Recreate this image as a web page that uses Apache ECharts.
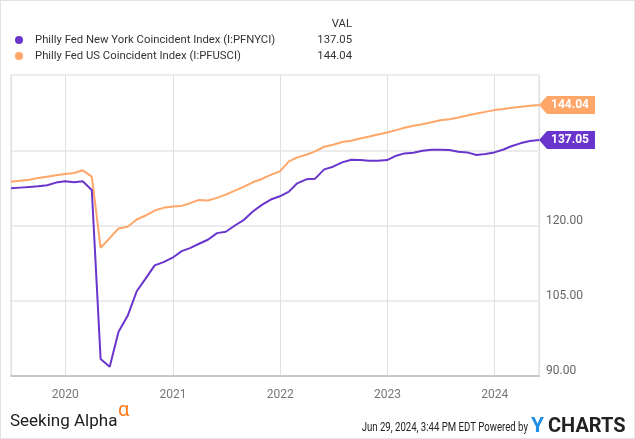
<!DOCTYPE html>
<html>
<head>
<meta charset="utf-8">
<script src="https://cdn.jsdelivr.net/npm/echarts@6/dist/echarts.min.js"></script>
<style>
  html, body { margin: 0; padding: 0; background: #fff; }
  #chart { width: 635px; height: 439px; box-sizing: border-box; border: 1px solid #e2e2e2; }
</style>
</head>
<body>
<div id="chart"></div>
<script>
// Month-end observation dates
const dates = [
  '2019-06-30','2019-07-31','2019-08-31','2019-09-30','2019-10-31','2019-11-30','2019-12-31',
  '2020-01-31','2020-02-29','2020-03-31','2020-04-30','2020-05-31','2020-06-30','2020-07-31','2020-08-31','2020-09-30','2020-10-31','2020-11-30','2020-12-31',
  '2021-01-31','2021-02-28','2021-03-31','2021-04-30','2021-05-31','2021-06-30','2021-07-31','2021-08-31','2021-09-30','2021-10-31','2021-11-30','2021-12-31',
  '2022-01-31','2022-02-28','2022-03-31','2022-04-30','2022-05-31','2022-06-30','2022-07-31','2022-08-31','2022-09-30','2022-10-31','2022-11-30','2022-12-31',
  '2023-01-31','2023-02-28','2023-03-31','2023-04-30','2023-05-31','2023-06-30','2023-07-31','2023-08-31','2023-09-30','2023-10-31','2023-11-30','2023-12-31',
  '2024-01-31','2024-02-29','2024-03-31','2024-04-30','2024-05-31'
];

// Philly Fed New York Coincident Index (I:PFNYCI)
const nyValues = [
  127.41,127.55,127.69,127.82,128.01,128.55,128.81,
  128.61,128.81,127.09,93.38,91.85,98.81,101.99,106.89,109.41,112.05,112.71,113.58,
  114.9,115.5,116.36,117.16,118.48,118.75,120.0,121.13,122.78,124.11,125.17,125.82,
  126.76,128.41,129.2,129.34,131.19,131.72,132.58,133.12,133.05,132.92,132.92,133.05,
  133.91,134.37,134.5,134.9,135.1,135.1,135.04,134.7,134.57,134.05,134.24,134.57,
  135.16,135.84,136.43,136.85,137.05
];

// Philly Fed US Coincident Index (I:PFUSCI)
const usValues = [
  128.74,128.94,129.14,129.47,129.74,130.0,130.27,
  130.47,131.0,129.74,115.57,117.48,119.4,119.74,121.19,121.99,122.98,123.52,123.78,
  123.91,124.45,125.1,125.0,125.5,126.16,126.96,127.75,128.61,129.28,130.08,130.8,
  132.78,133.58,134.11,134.77,135.7,136.1,136.63,136.89,137.35,137.75,138.15,138.54,
  139.01,139.47,139.87,140.2,140.6,141.0,141.2,141.52,141.92,142.31,142.65,143.0,
  143.2,143.45,143.65,143.85,144.04
];

const seriesNames = ['Philly Fed New York Coincident Index (I:PFNYCI)', 'Philly Fed US Coincident Index (I:PFUSCI)'];
const seriesColors = ['#6a35cc', '#ffa668'];
const yTickLabels = [90, 105, 120];
const xTickLabels = ['2020', '2021', '2022', '2023', '2024'];

const FONT = 'Roboto, "DejaVu Sans", sans-serif';

function toPairs(vals) { return vals.map((v, i) => [dates[i], v]); }

const allSeries = [nyValues, usValues];
const flagPath = 'path://M0,9 L8,0 L56,0 L56,18 L8,18 Z';

const series = allSeries.map((vals, si) => {
  const last = vals[vals.length - 1];
  return {
    name: seriesNames[si],
    type: 'line',
    data: toPairs(vals),
    showSymbol: false,
    symbol: 'none',
    clip: false,
    z: si === 0 ? 4 : 3,
    lineStyle: { color: seriesColors[si], width: 2 },
    itemStyle: { color: seriesColors[si] },
    markPoint: {
      symbol: flagPath,
      symbolSize: [56, 18],
      symbolKeepAspect: false,
      symbolOffset: [28, 0],
      silent: true,
      itemStyle: { color: seriesColors[si] },
      label: {
        show: true,
        position: 'inside',
        offset: [3, 0],
        color: '#fff',
        fontFamily: FONT,
        fontSize: 12,
        fontWeight: 'bold',
        formatter: () => last.toFixed(2)
      },
      data: [{ coord: [dates[dates.length - 1], last], value: last }]
    }
  };
});

const LEG_FONT = '11.3px ' + FONT;
// Legend (custom, with VAL column)
const legendGraphics = [];
legendGraphics.push({
  type: 'text', x: 351, y: 23,
  style: { text: 'VAL', font: LEG_FONT, fill: '#333', textAlign: 'right', textVerticalAlign: 'middle' }
});
seriesNames.forEach((name, i) => {
  const cy = 39 + i * 16;
  const vals = allSeries[i];
  legendGraphics.push({
    type: 'circle', shape: { cx: 18, cy: cy, r: 4 }, style: { fill: seriesColors[i] }
  });
  legendGraphics.push({
    type: 'text', x: 34, y: cy,
    style: { text: name, font: LEG_FONT, fill: '#333', textVerticalAlign: 'middle' }
  });
  legendGraphics.push({
    type: 'text', x: 351, y: cy,
    style: { text: vals[vals.length - 1].toFixed(2), font: LEG_FONT, fill: '#333', textAlign: 'right', textVerticalAlign: 'middle' }
  });
});

// Footer
const footer = [
  { type: 'text', x: 9, y: 421, style: { text: 'Seeking Alpha', font: '17px ' + FONT, fill: '#1d1d1d', textVerticalAlign: 'middle' } },
  { type: 'text', x: 117, y: 410, style: { text: 'α', font: '20px ' + FONT, fill: '#ff7a1a', textVerticalAlign: 'middle' } },
  { type: 'text', x: 527, y: 427, scaleX: 0.8, originX: 0, style: { text: 'Jun 29, 2024, 3:44 PM EDT Powered by', font: '12px ' + FONT, fill: '#222', textAlign: 'right', textVerticalAlign: 'middle' } },
  { type: 'text', x: 530, y: 426, style: { text: 'Y', font: 'bold 21px ' + FONT, fill: '#1f8ee6', textVerticalAlign: 'middle' } },
  { type: 'text', x: 547, y: 426, style: { text: 'CHARTS', font: 'bold 20px ' + FONT, fill: '#222', textVerticalAlign: 'middle' } }
];

const chart = echarts.init(document.getElementById('chart'), null, { renderer: 'canvas' });
chart.setOption({
  animation: false,
  backgroundColor: '#fff',
  grid: { left: 10, right: 95, top: 74, bottom: 62, show: true, borderColor: '#d6d6d6', borderWidth: 1 },
  xAxis: {
    type: 'time',
    min: dates[0],
    max: dates[dates.length - 1],
    minInterval: 365 * 24 * 3600 * 1000,
    maxInterval: 366 * 24 * 3600 * 1000,
    axisLine: { show: true, lineStyle: { color: '#c8c8c8', width: 2 } },
    axisTick: { show: false },
    splitLine: { show: true, lineStyle: { color: '#e0e0e0', width: 1 } },
    axisLabel: {
      color: '#777', fontSize: 12, fontFamily: FONT, margin: 13,
      showMinLabel: false, showMaxLabel: false,
      formatter: (val) => {
        const y = String(new Date(val).getFullYear());
        return xTickLabels.indexOf(y) >= 0 ? y : '';
      }
    }
  },
  yAxis: {
    type: 'value',
    position: 'right',
    min: 90, max: 150, interval: 15,
    axisLine: { show: false },
    axisTick: { show: false },
    splitLine: { show: true, lineStyle: { color: '#ececec', width: 2 } },
    axisLabel: {
      color: '#666', fontSize: 12, fontFamily: FONT, margin: 7,
      verticalAlign: 'bottom',
      lineHeight: 10,
      formatter: (v) => yTickLabels.indexOf(v) >= 0 ? v.toFixed(2) : ''
    }
  },
  series: series,
  graphic: legendGraphics.concat(footer)
});
</script>
</body>
</html>
